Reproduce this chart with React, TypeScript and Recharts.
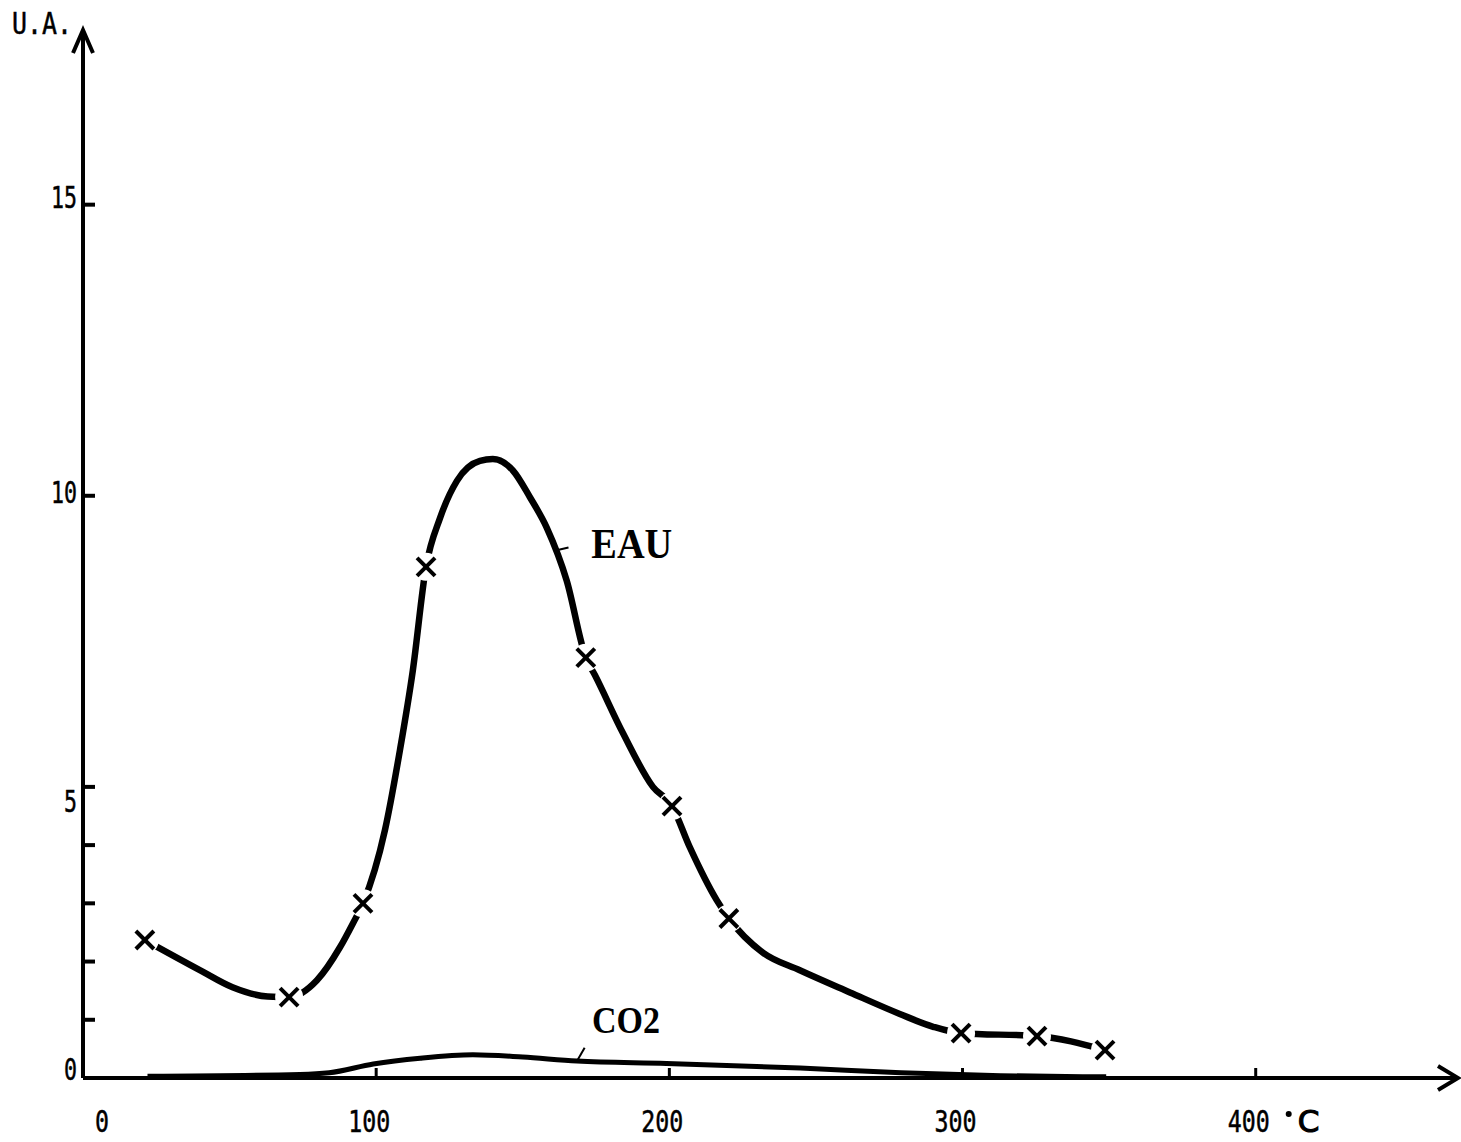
import React from 'react'
import { LineChart, Line, XAxis, YAxis, ReferenceDot, ReferenceLine } from 'recharts'

// temperature (°C) / signal (U.A.)
const eauMarkerTemp = [21.1, 70.3, 95.5, 117, 171.5, 200.9, 220.3, 299.5, 325.4, 348.6]
const eauMarkerValue = [2.37, 1.39, 3.0, 8.78, 7.22, 4.67, 2.74, 0.77, 0.72, 0.48]

const eauCurveTemp = [
  21.1, 40, 51, 63, 70.3, 79.8, 87.7, 92.1, 95.5, 103, 108.1, 112.5, 117, 121.8, 127.6, 135.4,
  139.8, 146.7, 152.5, 158.2, 165, 171.5, 174.6, 184.2, 194.4, 200.9, 207, 216.2, 220.3, 232,
  244.5, 261.6, 278.6, 290, 299.5, 325.4, 348.6,
]
const eauCurveValue = [
  2.37, 1.85, 1.56, 1.4, 1.39, 1.68, 2.25, 2.66, 3.0, 4.26, 5.63, 7.0, 8.78, 9.62, 10.26, 10.6,
  10.63, 10.43, 9.97, 9.45, 8.54, 7.22, 6.92, 5.92, 5.0, 4.67, 3.96, 3.05, 2.74, 2.15, 1.85, 1.47,
  1.1, 0.88, 0.77, 0.72, 0.48,
]

const co2Temp = [22, 74, 84, 99, 115, 133, 150, 168.5, 199, 244.6, 279, 313, 349]
const co2Value = [0.03, 0.06, 0.09, 0.24, 0.34, 0.4, 0.36, 0.29, 0.25, 0.17, 0.09, 0.04, 0.02]

const xTicks = [0, 100, 200, 300, 400]
const yTicks = [0, 1, 2, 3, 4, 5, 10, 15]
const yLabelled = [0, 5, 10, 15]

const X_MAX = 469
const Y_MAX = 18

const eauCurve = eauCurveTemp.map((t, i) => ({ t, v: eauCurveValue[i] }))
const eauMarkers = eauMarkerTemp.map((t, i) => ({ t, v: eauMarkerValue[i] }))
const co2Curve = co2Temp.map((t, i) => ({ t, v: co2Value[i] }))

const MONO = '"DejaVu Sans Mono", monospace'
const SERIF = '"Liberation Serif", "DejaVu Serif", serif'

// hand-lettered labels sit a little off their ticks
const yLabelDy: Record<number, number> = { 0: 2, 5: 25, 10: 7, 15: 3 }

function YTick({ x, y, payload }: any) {
  const v = payload.value
  const label = String(v)
  return (
    <g>
      {v !== 0 && <line x1={x} y1={y} x2={x + 12} y2={y} stroke="#000" strokeWidth={4} />}
      {yLabelled.includes(v) && (
        <text
          x={x - 6}
          y={y + yLabelDy[v]}
          textAnchor="end"
          fontFamily={MONO}
          fontSize={31}
          textLength={label.length * 13}
          lengthAdjust="spacingAndGlyphs"
          fill="#000"
          stroke="#000"
          strokeWidth={0.5}
        >
          {label}
        </text>
      )}
    </g>
  )
}

function XTick({ x, y, payload }: any) {
  const v = payload.value
  const label = String(v)
  const cx = v === 0 ? x + 19 : x - 7
  return (
    <g>
      {v !== 0 && <line x1={x} y1={y} x2={x} y2={y - 10} stroke="#000" strokeWidth={3} />}
      <text
        x={cx}
        y={y + 54}
        textAnchor="middle"
        fontFamily={MONO}
        fontSize={31}
        textLength={label.length * 14}
        lengthAdjust="spacingAndGlyphs"
        fill="#000"
        stroke="#000"
        strokeWidth={0.5}
      >
        {label}
      </text>
      {v === 400 && (
        <g>
          <circle cx={x + 33} cy={y + 36} r={3} fill="#000" />
          <text
            x={x + 42}
            y={y + 54}
            fontFamily='"DejaVu Sans", sans-serif'
            fontSize={31}
            fill="#000"
            stroke="#000"
            strokeWidth={1.2}
          >
            C
          </text>
        </g>
      )}
    </g>
  )
}

function Cross({ cx, cy, index }: any) {
  if (cx == null || cy == null) return <g key={index} />
  const s = 9
  return (
    <g key={index}>
      <circle cx={cx} cy={cy} r={14} fill="#fff" />
      <line x1={cx - s} y1={cy - s} x2={cx + s} y2={cy + s} stroke="#000" strokeWidth={4} />
      <line x1={cx - s} y1={cy + s} x2={cx + s} y2={cy - s} stroke="#000" strokeWidth={4} />
    </g>
  )
}

function UpArrow({ cx, cy }: any) {
  return (
    <g>
      <path d={`M${cx - 10},${cy + 23} L${cx},${cy} L${cx + 10},${cy + 23}`} fill="none" stroke="#000" strokeWidth={4} />
      <text
        x={cx - 71}
        y={cy + 4}
        fontFamily={MONO}
        fontSize={31}
        textLength={60}
        lengthAdjust="spacingAndGlyphs"
        fill="#000"
        stroke="#000"
        strokeWidth={0.5}
      >
        U.A.
      </text>
    </g>
  )
}

function RightArrow({ cx, cy }: any) {
  return (
    <path d={`M${cx - 20},${cy - 12} L${cx},${cy} L${cx - 20},${cy + 12}`} fill="none" stroke="#000" strokeWidth={4} />
  )
}

function seriesLabel(text: string, size: number, width: number) {
  return ({ cx, cy }: any) => (
    <text
      x={cx}
      y={cy}
      textAnchor="middle"
      fontFamily={SERIF}
      fontWeight="bold"
      fontSize={size}
      textLength={width}
      lengthAdjust="spacingAndGlyphs"
      fill="#000"
    >
      {text}
    </text>
  )
}

export default function App() {
  return (
    <div style={{ position: 'absolute', left: 0, top: 0, width: 1461, height: 1142, background: '#fff' }}>
      <LineChart width={1461} height={1142} margin={{ top: 30, right: 3, bottom: 0, left: 0 }}>
        <XAxis
          type="number"
          dataKey="t"
          domain={[0, X_MAX]}
          ticks={xTicks}
          height={64}
          tickSize={0}
          tickMargin={0}
          tickLine={false}
          tick={<XTick />}
          axisLine={{ stroke: '#000', strokeWidth: 4 }}
          allowDataOverflow
        />
        <YAxis
          type="number"
          dataKey="v"
          domain={[0, Y_MAX]}
          ticks={yTicks}
          width={83}
          tickSize={0}
          tickMargin={0}
          tickLine={false}
          tick={<YTick />}
          axisLine={{ stroke: '#000', strokeWidth: 4 }}
          allowDataOverflow
        />
        <Line
          data={co2Curve}
          dataKey="v"
          type="monotone"
          stroke="#000"
          strokeWidth={5}
          dot={false}
          activeDot={false}
          isAnimationActive={false}
        />
        <Line
          data={eauCurve}
          dataKey="v"
          type="monotone"
          stroke="#000"
          strokeWidth={6.5}
          strokeLinecap="round"
          dot={false}
          activeDot={false}
          isAnimationActive={false}
        />
        <Line
          data={eauMarkers}
          dataKey="v"
          stroke="none"
          dot={<Cross />}
          activeDot={false}
          isAnimationActive={false}
        />
        <ReferenceLine
          segment={[{ x: 161.2, y: 9.06 }, { x: 165.6, y: 9.11 }]}
          stroke="#000"
          strokeWidth={2}
        />
        <ReferenceLine
          segment={[{ x: 168.7, y: 0.31 }, { x: 171.1, y: 0.52 }]}
          stroke="#000"
          strokeWidth={2}
        />
        <ReferenceDot x={187.2} y={8.93} r={0} shape={seriesLabel('EAU', 42, 81)} ifOverflow="visible" />
        <ReferenceDot x={185.2} y={0.77} r={0} shape={seriesLabel('CO2', 38, 68)} ifOverflow="visible" />
        <ReferenceDot x={0} y={Y_MAX} r={0} shape={<UpArrow />} ifOverflow="visible" />
        <ReferenceDot x={X_MAX} y={0} r={0} shape={<RightArrow />} ifOverflow="visible" />
      </LineChart>
    </div>
  )
}
